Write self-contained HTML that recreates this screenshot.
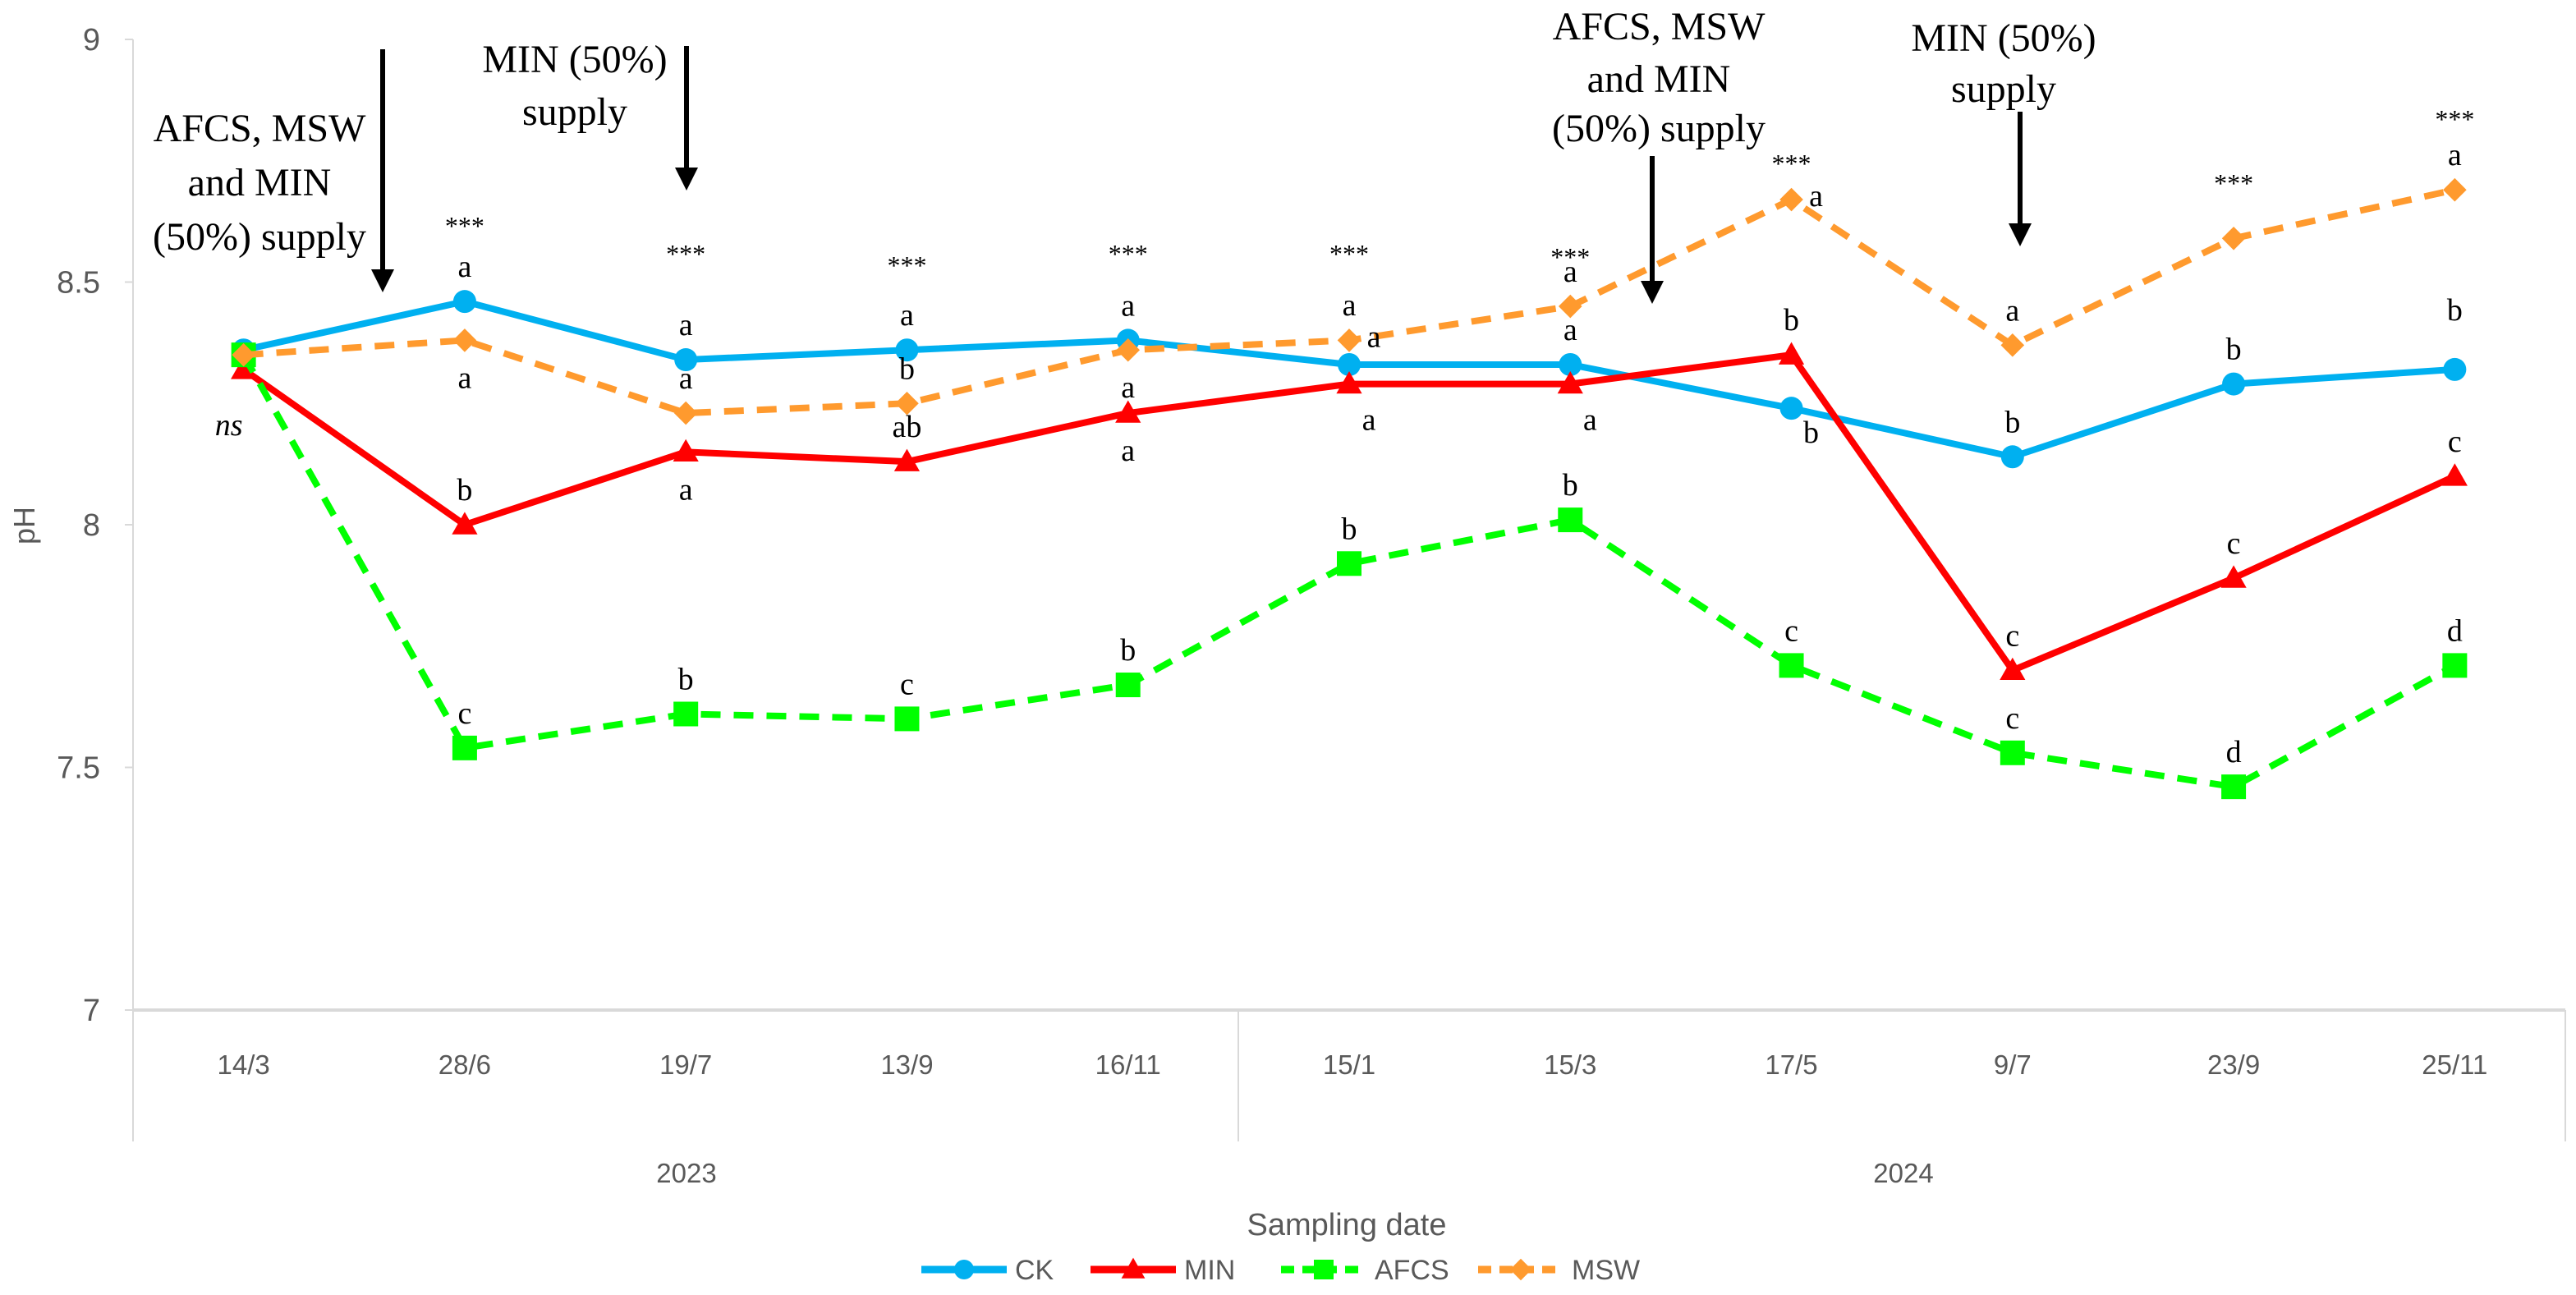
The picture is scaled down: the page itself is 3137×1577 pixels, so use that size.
<!DOCTYPE html>
<html><head><meta charset="utf-8"><style>
html,body{margin:0;padding:0;background:#fff;}
svg{display:block;}
.ax{font-family:"Liberation Sans",sans-serif;fill:#595959;}
.an{font-family:"Liberation Serif",serif;fill:#000;}
</style></head><body>
<svg id="chart" width="3137" height="1577" viewBox="0 0 3137 1577" xmlns="http://www.w3.org/2000/svg">
<g id="axes"></g>
<g id="series"></g>
<g id="notes"></g>
<g id="legend"></g>
</svg>
<script>
const categories=["14/3","28/6","19/7","13/9","16/11","15/1","15/3","17/5","9/7","23/9","25/11"];
const years=["2023","2024"];
const yTicks=[7,7.5,8,8.5,9];
const ckValues=[8.36,8.46,8.34,8.36,8.38,8.33,8.33,8.24,8.14,8.29,8.32];
const minValues=[8.32,8.00,8.15,8.13,8.23,8.29,8.29,8.35,7.70,7.89,8.10];
const afcsValues=[8.35,7.54,7.61,7.60,7.67,7.92,8.01,7.71,7.53,7.46,7.71];
const mswValues=[8.35,8.38,8.23,8.25,8.36,8.38,8.45,8.67,8.37,8.59,8.69];
const sigLabels=["","***","***","***","***","***","***","***","","***","***"];
// letters: [category index, series index (0 CK,1 MIN,2 AFCS,3 MSW), placement, text]
const letterCats=[1,1,1,1, 2,2,2,2, 3,3,3,3, 4,4,4,4, 5,5,5,5, 6,6,6,6, 7,7,7,7, 8,8,8,8, 9,9,9, 10,10,10,10];
const letterSeries=[0,3,1,2, 0,3,1,2, 0,3,1,2, 0,3,1,2, 0,3,1,2, 3,0,1,2, 3,0,1,2, 3,0,1,2, 0,1,2, 3,0,1,2];
const letterPos=["a","b","a","a", "a","a","b","a", "a","a","a","a", "a","b","b","a", "a2","r","bR","a", "a","a","bR","a", "r","br","a","a", "a","a","a","a", "a","a","a", "a","a2","a","a"];
const letterText=["a","a","b","c", "a","a","a","b", "a","b","ab","c", "a","a","a","b", "a","a","a","b", "a","a","a","b", "a","b","b","c", "a","b","c","c", "b","c","d", "a","b","c","d"];

const NS="http://www.w3.org/2000/svg";
const X0=162,X1=3124,Y9=48,Y7=1230;
function x(i){return X0+(i+0.5)*(X1-X0)/categories.length;}
function y(v){return Y7-(v-7)*(Y7-Y9)/2;}
function mk(p,tag,a,t){const e=document.createElementNS(NS,tag);for(const k in a)e.setAttribute(k,a[k]);if(t!==undefined)e.textContent=t;p.appendChild(e);return e;}
const axes=document.getElementById('axes'),ser=document.getElementById('series'),notes=document.getElementById('notes'),leg=document.getElementById('legend');

const yl=mk(axes,'line',{x1:X0,y1:Y9,x2:X0,y2:Y7,stroke:'#d9d9d9','stroke-width':2});


yTicks.forEach(v=>{
  const t=mk(axes,'text',{x:X0-40,y:y(v)+13,'text-anchor':'end','font-size':38,class:'ax'},String(v));
  
  
  mk(axes,'line',{x1:X0-10,y1:y(v),x2:X0,y2:y(v),stroke:'#d9d9d9','stroke-width':2});
});
const yt=mk(axes,'text',{x:42,y:640,'text-anchor':'middle','font-size':36,class:'ax',transform:'rotate(-90 42 640)'},'pH');


const xl=mk(axes,'line',{x1:X0,y1:Y7,x2:X1,y2:Y7,stroke:'#d9d9d9','stroke-width':4});


[X0,1508,X1].forEach(xx=>mk(axes,'line',{x1:xx,y1:Y7,x2:xx,y2:1390,stroke:'#d9d9d9','stroke-width':2}));
categories.forEach((c,i)=>{
  const t=mk(axes,'text',{x:x(i),y:1308,'text-anchor':'middle','font-size':33,class:'ax'},c);
  
  
});
years.forEach((yr,i)=>{
  const t=mk(axes,'text',{x:i==0?836:2318,y:1440,'text-anchor':'middle','font-size':33,class:'ax'},yr);
  
  
});
const xt=mk(axes,'text',{x:1640,y:1504,'text-anchor':'middle','font-size':38,class:'ax'},'Sampling date');



function marker(g,shape,cx,cy,color,s){
  if(shape=='circle')return mk(g,'circle',{cx:cx,cy:cy,r:s,fill:color});
  if(shape=='tri')return mk(g,'polygon',{points:`${cx},${cy-s*1.2} ${cx-s*1.2},${cy+s*0.9} ${cx+s*1.2},${cy+s*0.9}`,fill:color});
  if(shape=='sq')return mk(g,'rect',{x:cx-s,y:cy-s,width:2*s,height:2*s,fill:color});
  return mk(g,'polygon',{points:`${cx},${cy-s*1.1} ${cx+s*1.1},${cy} ${cx},${cy+s*1.1} ${cx-s*1.1},${cy}`,fill:color});
}
const seriesDefs=[
 {name:'CK',vals:ckValues,color:'#00b0f0',dash:'',shape:'circle',s:14},
 {name:'MIN',vals:minValues,color:'#ff0000',dash:'',shape:'tri',s:13},
 {name:'AFCS',vals:afcsValues,color:'#00ff00',dash:'24,16',shape:'sq',s:15},
 {name:'MSW',vals:mswValues,color:'#ff9a2e',dash:'24,16',shape:'dia',s:13}
];
seriesDefs.forEach(d=>{
  const g=mk(ser,'g',{});
  
  
  const p=mk(g,'polyline',{points:d.vals.map((v,i)=>x(i)+','+y(v)).join(' '),fill:'none',stroke:d.color,'stroke-width':8,'stroke-dasharray':d.dash,'stroke-linejoin':'round'});
  
  
  d.vals.forEach((v,i)=>{
    const m=marker(g,d.shape,x(i),y(v),d.color,d.s);
    
    
  });
});

const starY=[0,276,310,324,310,310,314,200,0,224,146];
sigLabels.forEach((s,i)=>{
  if(!s)return;
  const t=mk(notes,'text',{x:x(i),y:starY[i]+10,'text-anchor':'middle','font-size':32,class:'an'},s);
  
  
});
letterText.forEach((txt,k)=>{
  const i=letterCats[k],s=seriesDefs[letterSeries[k]];
  const px=x(i),py=y(s.vals[i]);
  let lx=px,ly=py-30;
  const pos=letterPos[k];
  if(pos=='b')ly=py+58;
  if(pos=='bR'){lx=px+24;ly=py+56;}
  if(pos=='r'){lx=px+30;ly=py+8;}
  if(pos=='br'){lx=px+24;ly=py+42;}
  if(pos=='a2')ly=py-60;
  const t=mk(notes,'text',{x:lx,y:ly,'text-anchor':'middle','font-size':38,class:'an'},txt);
  
  
});
const ns=mk(notes,'text',{x:x(0)-18,y:y(minValues[0])+80,'text-anchor':'middle','font-size':38,class:'an','font-style':'italic'},'ns');



const arrows=[[466,60,356],[836,56,232],[2012,190,370],[2460,136,300]];
arrows.forEach(a=>{
  const g=mk(notes,'g',{});
  
  
  mk(g,'line',{x1:a[0],y1:a[1],x2:a[0],y2:a[2]-24,stroke:'#000','stroke-width':6});
  mk(g,'polygon',{points:`${a[0]-14},${a[2]-28} ${a[0]+14},${a[2]-28} ${a[0]},${a[2]}`,fill:'#000'});
});
const supplyNotes=[[316,[172,238,304],['AFCS, MSW','and MIN','(50%) supply']],
[700,[88,152],['MIN (50%)','supply']],
[2020,[48,112,172],['AFCS, MSW','and MIN','(50%) supply']],
[2440,[62,124],['MIN (50%)','supply']]];
supplyNotes.forEach(n=>{
  n[2].forEach((line,j)=>{
    const t=mk(notes,'text',{x:n[0],y:n[1][j],'text-anchor':'middle','font-size':48,class:'an'},line);
    
    
  });
});
const legendStarts=[1122,1328,1560,1800];
seriesDefs.forEach((d,k)=>{
  const lx=legendStarts[k];
  const g=mk(leg,'g',{});
  
  
  mk(g,'line',{x1:lx,y1:1546,x2:lx+104,y2:1546,stroke:d.color,'stroke-width':9,'stroke-dasharray':d.dash?'16,10':''});
  marker(g,d.shape,lx+52,1546,d.color,12);
  mk(g,'text',{x:lx+114,y:1558,'font-size':34,class:'ax'},d.name);
});
</script>
</body></html>
